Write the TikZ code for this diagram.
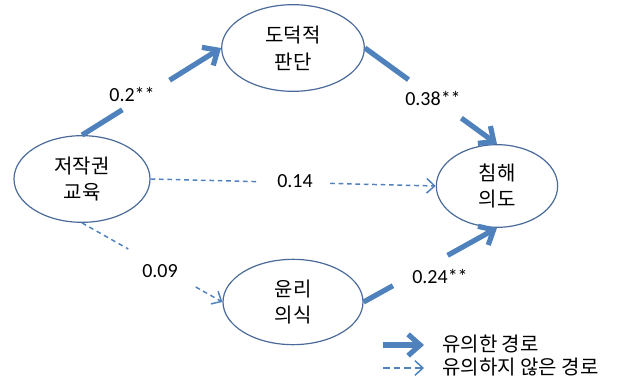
\documentclass[tikz,border=0pt]{standalone}
\usepackage{fontspec}
\setmainfont{Carlito}
\newfontfamily\kr{Noto Sans CJK KR}
\usetikzlibrary{arrows.meta,calc,shapes.geometric}
\definecolor{pathblue}{HTML}{4F81BD}
\definecolor{ovalline}{HTML}{4A6B9A}
\tikzset{
  oval/.style={ellipse, draw=ovalline, line width=0.9pt, fill=white, inner sep=0pt,
    align=center, font=\kr\fontsize{15pt}{20pt}\selectfont},
  sig/.style={draw=pathblue, line width=3.9pt},
  sighead/.style={sig, -{Straight Barb[length=9pt,width=16pt]}},
  nsig/.style={draw=pathblue, line width=1.1pt, dash pattern=on 3.5pt off 2.8pt},
  nsighead/.style={nsig, -{Straight Barb[length=6pt,width=11pt]}},
  coef/.style={font=\fontsize{15pt}{18pt}\selectfont, inner sep=0pt},
  legtext/.style={anchor=west, inner sep=0pt, font=\kr\fontsize{15pt}{18pt}\selectfont}
}
\begin{document}
\begin{tikzpicture}[x=0.75pt,y=-0.75pt]
\useasboundingbox (0,0) rectangle (635,381);
% nodes
\node[oval, minimum width=102pt, minimum height=65pt] (edu) at (82,179) {저작권\\교육};
\node[oval, minimum width=107pt, minimum height=65pt] (moral) at (293,48) {도덕적\\판단};
\node[oval, minimum width=91pt, minimum height=62pt] (intent) at (497,186) {침해\\의도};
\node[oval, minimum width=105pt, minimum height=64pt] (ethic) at (293,302) {윤리\\의식};
% significant paths
\draw[sig] (edu.north) -- ($(edu.north)!0.29!(moral.west)$);
\draw[sighead] ($(edu.north)!0.63!(moral.west)$) -- (moral.west);
\node[coef] (c1) at (132,94) {0.2**};
\draw[sig] (moral.east) -- ($(moral.east)!0.33!(intent.north)$);
\draw[sighead] ($(moral.east)!0.73!(intent.north)$) -- (intent.north);
\node[coef] (c2) at (433,98) {0.38**};
\draw[sig] (ethic.east) -- ($(ethic.east)!0.22!(intent.south)$);
\draw[sighead] ($(ethic.east)!0.63!(intent.south)$) -- (intent.south);
\node[coef] (c3) at (440,276) {0.24**};
% non-significant paths
\draw[nsig] (edu.east) -- ($(edu.east)!0.37!(intent.west)$);
\draw[nsighead] ($(edu.east)!0.63!(intent.west)$) -- (intent.west);
\node[coef] (c4) at (295,181) {0.14};
\draw[nsig] (edu.south) -- ($(edu.south)!0.33!(ethic.west)$);
\draw[nsighead] ($(edu.south)!0.81!(ethic.west)$) -- (ethic.west);
\node[coef] (c5) at (160,271) {0.09};
% legend
\coordinate (l1a) at (383,345);
\coordinate (l1b) at (424,345);
\coordinate (l2a) at (383,368);
\coordinate (l2b) at (424,368);
\draw[sighead] (l1a) -- (l1b);
\draw[nsighead, dash pattern=on 5pt off 3pt] (l2a) -- (l2b);
\node[legtext] (t1) at (442,344) {유의한 경로};
\node[legtext] (t2) at (442,367) {유의하지 않은 경로};
\end{tikzpicture}
\end{document}
